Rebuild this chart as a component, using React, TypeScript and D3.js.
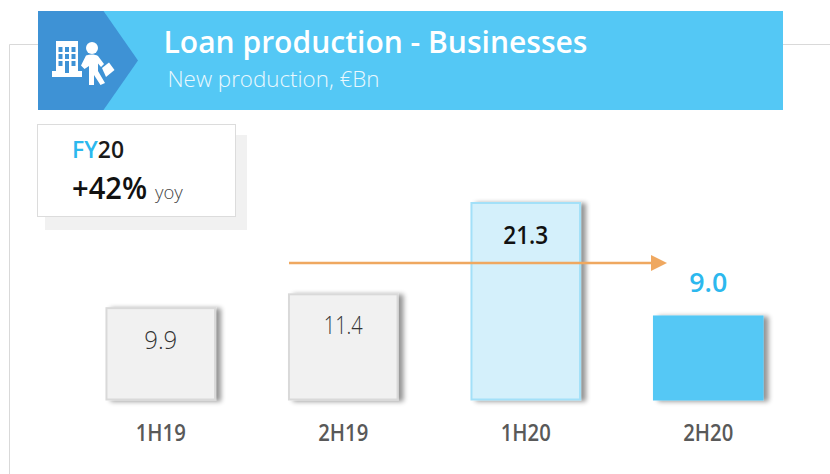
import React from "react";
import * as d3 from "d3";

const categories = ["1H19", "2H19", "1H20", "2H20"];
const values = [9.9, 11.4, 21.3, 9.0];
const valueLabels = ["9.9", "11.4", "21.3", "9.0"];
const fills = ["#f1f1f1", "#f1f1f1", "#d4f0fb", "#54c8f5"];
const strokes = ["#d9d9d9", "#d9d9d9", "#a3e0f8", "#54c8f5"];

const font = "'Open Sans', 'Noto Sans', sans-serif";

export default function App() {
  const x = d3.scaleBand<string>().domain(categories).range([69.5, 799.5]).paddingInner(0.405).paddingOuter(0.2025);
  const y = d3.scaleLinear().domain([0, 21.3]).range([399.5, 203]);
  const cx = (c: string) => x(c)! + x.bandwidth() / 2;

  return (
    <svg width={830} height={474} viewBox="0 0 830 474" style={{ position: "absolute", left: 0, top: 0, display: "block", fontFamily: font }}>
      <defs>
        <filter id="barShadow" x="-20%" y="-20%" width="150%" height="150%">
          <feGaussianBlur in="SourceAlpha" stdDeviation="2.6" />
          <feOffset dx="5" dy="1" />
          <feComponentTransfer><feFuncA type="linear" slope="0.42" /></feComponentTransfer>
          <feMerge><feMergeNode /><feMergeNode in="SourceGraphic" /></feMerge>
        </filter>
      </defs>
      <rect width={830} height={474} fill="#fff" />

      {/* frame */}
      <path d="M9.5 474V44.5H40M783 44.5H830" fill="none" stroke="#d9d9d9" strokeWidth={1} />

      {/* header */}
      <rect x={38} y={11} width={745} height={99} fill="#54c8f5" />
      <path d="M38 11H103.5L138 60.5L103.5 110H38Z" fill="#3e92d5" />
      <g fill="#fff">
        <path fillRule="evenodd" d="M56 41H78V71H82V77H52V71H56ZM58.5 47V52H62.5V47ZM65 47V52H69V47ZM71.5 47V52H75.5V47ZM58.5 54V59H62.5V54ZM65 54V59H69V54ZM71.5 54V59H75.5V54ZM58.5 61V66H62.5V61ZM71.5 61V66H75.5V61ZM65 61V73H69V61Z" />
        <circle cx={92} cy={48} r={6} />
        <path d="M86 55.5C90 54 95 54 98 56L104 64L101 67L98 63.5L98 71L105 83L100.5 85L94 75L94 85H89V66L84.5 69L81 65.5Z" />
        <path d="M102 68L109 62.5L114.5 70L106 77Z" />
      </g>
      <text x={163.5} y={53} fontSize={31} fontWeight={600} fill="#fff" textLength={424} lengthAdjust="spacingAndGlyphs">Loan production - Businesses</text>
      <text x={167.5} y={87} fontSize={22.5} fontWeight={300} fill="#eaf8fe" textLength={212} lengthAdjust="spacingAndGlyphs">New production, €Bn</text>

      {/* FY20 box */}
      <rect x={45} y={135} width={202} height={95} fill="#f1f1f1" />
      <rect x={37.5} y={124.5} width={198} height={92} fill="#fff" stroke="#dcdcdc" strokeWidth={1} />
      <text x={72} y={158} fontSize={23} fontWeight={600} fill="#1a1a1a" textLength={52} lengthAdjust="spacingAndGlyphs">
        <tspan fill="#2cb8ee">FY</tspan>20
      </text>
      <text x={72} y={199} fontSize={30} fontWeight={600} fill="#111" textLength={75} lengthAdjust="spacingAndGlyphs">+42%</text>
      <text x={155} y={199} fontSize={18.5} fontWeight={300} fill="#444">yoy</text>

      {/* bars */}
      {categories.map((c, i) => (
        <rect
          key={c}
          x={x(c)}
          y={y(values[i])}
          width={x.bandwidth()}
          height={y(0) - y(values[i])}
          fill={fills[i]}
          stroke={strokes[i]}
          strokeWidth={2}
          filter="url(#barShadow)"
        />
      ))}

      {/* arrow */}
      <line x1={289} y1={263} x2={652} y2={263} stroke="#efa860" strokeWidth={2.5} />
      <path d="M651 255L667 263L651 271Z" fill="#efa860" />

      {/* value labels */}
      <text x={cx(categories[0])} y={349} textAnchor="middle" fontSize={25.5} fontWeight={300} fill="#333" textLength={33} lengthAdjust="spacingAndGlyphs">{valueLabels[0]}</text>
      <text x={cx(categories[1])} y={334} textAnchor="middle" fontSize={26} fontWeight={300} fill="#333" textLength={39} lengthAdjust="spacingAndGlyphs">{valueLabels[1]}</text>
      <text x={cx(categories[2])} y={244} textAnchor="middle" fontSize={25.5} fontWeight={600} fill="#111" textLength={45} lengthAdjust="spacingAndGlyphs">{valueLabels[2]}</text>
      <text x={cx(categories[3])} y={292} textAnchor="middle" fontSize={27.5} fontWeight={600} fill="#2cb8ee" textLength={38} lengthAdjust="spacingAndGlyphs">{valueLabels[3]}</text>

      {/* category labels */}
      {categories.map((c) => (
        <text key={c} x={cx(c)} y={441} textAnchor="middle" fontSize={22.5} fontWeight={600} fill="#595959" textLength={50} lengthAdjust="spacingAndGlyphs">{c}</text>
      ))}
    </svg>
  );
}
